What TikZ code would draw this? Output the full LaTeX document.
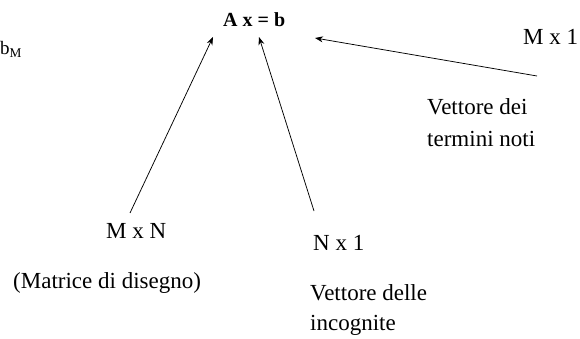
\documentclass[tikz,border=0pt]{standalone}
\usepackage{fontspec}
\setmainfont{Liberation Serif}
\usepackage{tikz}
\usetikzlibrary{arrows.meta, positioning}
\tikzset{
  lbl/.style={anchor=base west, inner sep=0pt, font=\fontsize{23}{30}\selectfont},
  arr/.style={-{Stealth[length=8pt, width=6pt]}, line width=0.75pt}
}

\begin{document}
\begin{tikzpicture}[x=1pt, y=-1pt]
\useasboundingbox (0,0) rectangle (580,339);
% --- Equation and stray label ---
\node[lbl, font=\fontsize{19}{24}\selectfont] (bM) at (0,55) {b\textsubscript{M}};
\node[lbl, font=\fontsize{20}{24}\selectfont\bfseries] (eq) at (223,27) {A x = b};
% --- Matrix ---
\node[lbl] (MN) at (106,238) {M x N};
\node[lbl] (matr) at (13,288) {(Matrice di disegno)};
% --- Unknowns ---
\node[lbl] (N1) at (313,250) {N x 1};
\node[lbl] (vdelle) at (310,300) {Vettore delle};
\node[lbl] (incog) at (310,330) {incognite};
% --- Known terms ---
\node[lbl] (M1) at (523,45) {M x 1};
\node[lbl] (vdei) at (427,115) {Vettore dei};
\node[lbl] (tnoti) at (427,147) {termini noti};
% Arrow ends
\coordinate (tailA) at (130,213);
\coordinate (headA) at (213,37);
\coordinate (tailX) at (314,211);
\coordinate (headX) at (259,37);
\coordinate (tailB) at (537,76);
\coordinate (headB) at (315,38);
\draw[arr] (tailA) -- (headA);
\draw[arr] (tailX) -- (headX);
\draw[arr] (tailB) -- (headB);
\end{tikzpicture}
\end{document}
